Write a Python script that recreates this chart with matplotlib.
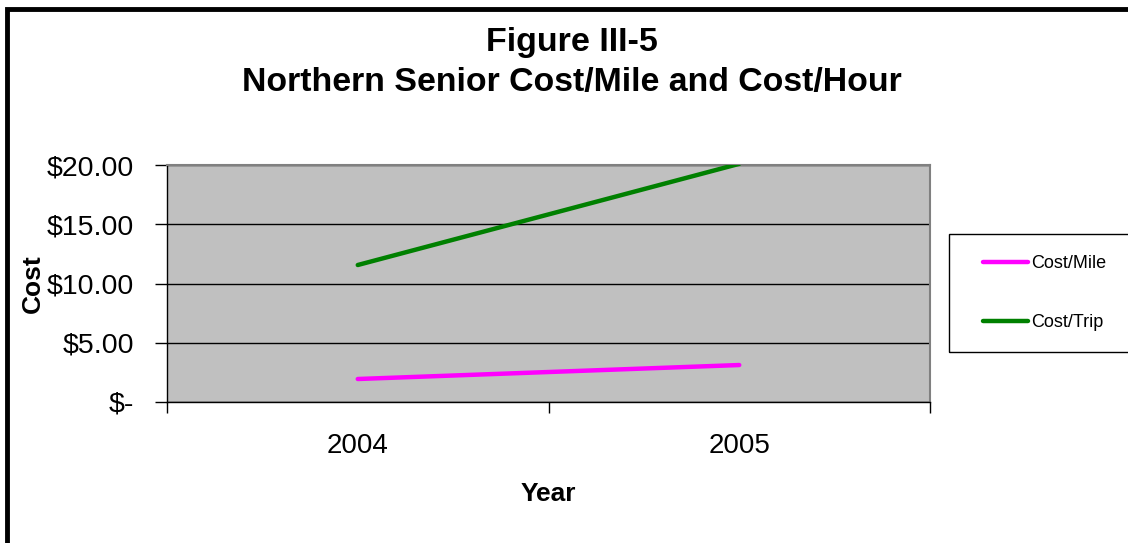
import matplotlib.pyplot as plt
from matplotlib.patches import Rectangle
from matplotlib.ticker import FuncFormatter

# data
years = ['2004', '2005']
cost_mile = [1.94, 3.12]
cost_trip = [11.56, 20.1]

plt.rcParams['font.family'] = ['Liberation Sans', 'DejaVu Sans']

fig = plt.figure(figsize=(11.28, 5.43), dpi=100)
W, H = 1128, 543

def fx(px):
    return px / W

def fy(py):
    return 1 - py / H

# outer chart frame (cut off right/bottom like the source)
fig.patches.append(Rectangle((fx(7), -0.05), 1.2, fy(9) + 0.05, transform=fig.transFigure,
                             fill=False, edgecolor='black', linewidth=3.5))

ax = fig.add_axes([fx(167), fy(402), fx(930 - 167), (402 - 165) / H])
ax.set_facecolor('#C0C0C0')

x = [0.5, 1.5]
ax.plot(x, cost_mile, color='#FF00FF', linewidth=3.2, solid_capstyle='round', label='Cost/Mile', zorder=3)
ax.plot(x, cost_trip, color='#008000', linewidth=3.2, solid_capstyle='round', label='Cost/Trip', zorder=3)

ax.set_xlim(0, 2)
ax.set_ylim(0, 20)
ax.set_yticks([0, 5, 10, 15, 20])
ax.yaxis.set_major_formatter(FuncFormatter(lambda v, p: '$-' if v == 0 else f'${v:.2f}'))
ax.grid(axis='y', color='black', linewidth=1)
ax.set_axisbelow(True)

ax.set_xticks([0, 1, 2])
ax.set_xticklabels([])
ax.set_xticks(x, minor=True)
ax.set_xticklabels(years, minor=True)
ax.tick_params(axis='x', which='minor', length=0, pad=22, labelsize=20)
ax.tick_params(axis='x', which='major', direction='out', length=8, width=1)
ax.tick_params(axis='y', direction='out', length=9, width=1, labelsize=20.5, pad=15)

for s in ['top', 'right']:
    ax.spines[s].set_color('#808080')
    ax.spines[s].set_linewidth(1.5)
for s in ['left', 'bottom']:
    ax.spines[s].set_color('black')
    ax.spines[s].set_linewidth(1)

ax.set_xlabel('Year', fontsize=19, fontweight='bold', labelpad=17)
ax.set_ylabel('Cost', fontsize=19, fontweight='bold')
ax.yaxis.set_label_coords((45 - 167) / 763, 0.5)

fig.text(fx(572), fy(42), 'Figure III-5', ha='center', va='center', fontsize=24.5, fontweight='bold')
fig.text(fx(572), fy(82), 'Northern Senior Cost/Mile and Cost/Hour', ha='center', va='center',
         fontsize=24.4, fontweight='bold')

# legend box, then entries without frame
fig.patches.append(Rectangle((fx(949), fy(352)), 0.2, (352 - 234) / H, transform=fig.transFigure,
                             fill=False, edgecolor='black', linewidth=1))
ax.legend(loc='upper left', bbox_to_anchor=(fx(983), fy(255)), bbox_transform=fig.transFigure,
          frameon=False, fontsize=13, handlelength=2.5, handletextpad=0.17,
          labelspacing=2.33, borderpad=0, borderaxespad=0)

fig.savefig('out.png', dpi=100)
